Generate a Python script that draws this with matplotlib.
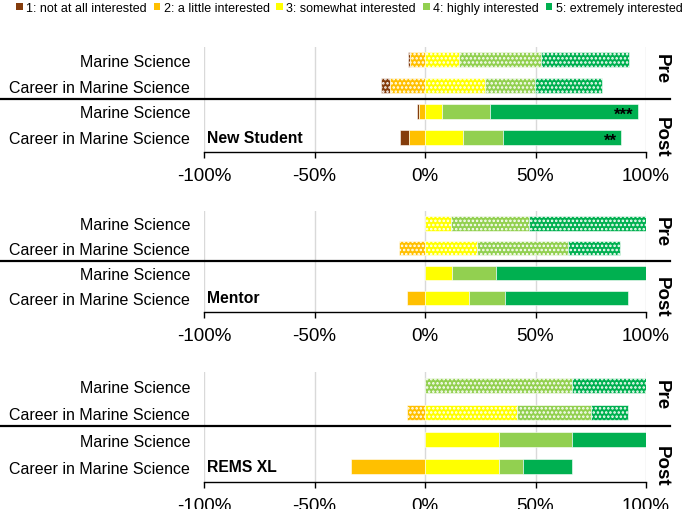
import matplotlib
matplotlib.use('agg')
import matplotlib.pyplot as plt
from matplotlib.patches import Patch
from matplotlib.lines import Line2D
from matplotlib.transforms import blended_transform_factory
import numpy as np

plt.rcParams['font.family'] = ['Liberation Sans', 'DejaVu Sans']
plt.rcParams['hatch.linewidth'] = 1.2

levels = ['1: not at all interested', '2: a little interested', '3: somewhat interested',
          '4: highly interested', '5: extremely interested']
colors = ['#843C0C', '#FFC000', '#FFFF00', '#92D050', '#00B050']

row_labels = ['Marine Science', 'Career in Marine Science', 'Marine Science', 'Career in Marine Science']
groups = ['New Student', 'Mentor', 'REMS XL']

# percent per level, rows: pre marine, pre career, post marine, post career
new_student = [[0.8, 6.8, 15.5, 37.0, 39.9],
               [4.2, 15.8, 27.1, 22.6, 30.3],
               [0.9, 2.9, 7.5, 21.9, 66.8],
               [3.9, 7.4, 17.0, 18.4, 53.3]]
mentor = [[0, 0, 11.8, 35.3, 52.9],
          [0, 11.8, 23.5, 41.2, 23.5],
          [0, 0, 12.0, 20.0, 68.0],
          [0, 8.0, 20.0, 16.0, 56.0]]
rems_xl = [[0, 0, 0, 66.7, 33.3],
           [0, 8.3, 41.7, 33.3, 16.7],
           [0, 0, 33.3, 33.3, 33.3],
           [0, 33.3, 33.3, 11.1, 22.2]]
data = [new_student, mentor, rems_xl]
stars = [['', '', '***', '**'], ['', '', '', ''], ['', '', '', '']]

fig = plt.figure(figsize=(6.85, 5.1), dpi=100)
W, H = 685.0, 510.0
# (top, bottom) in pixels
panels = [(48, 153), (212, 313), (373, 483)]
left, right = 204, 646

for g, (top, bot) in enumerate(panels):
    ax = fig.add_axes([left / W, 1 - bot / H, (right - left) / W, (bot - top) / H])
    vals = np.array(data[g], dtype=float)
    for r in range(4):
        pre = r < 2
        hatch = '....' if pre else None
        # negative side: levels 1 and 2
        x0 = -(vals[r, 0] + vals[r, 1])
        for k in range(2):
            if vals[r, k] > 0:
                ax.barh(r, vals[r, k], left=x0, height=0.58, color=colors[k],
                        edgecolor='white', linewidth=0.4, hatch=hatch, zorder=2)
            x0 += vals[r, k]
        x0 = 0
        for k in range(2, 5):
            if vals[r, k] > 0:
                ax.barh(r, vals[r, k], left=x0, height=0.58, color=colors[k],
                        edgecolor='white', linewidth=0.4, hatch=hatch, zorder=2)
            x0 += vals[r, k]
        if stars[g][r]:
            ax.text(x0 - 2, r + 0.12, stars[g][r], ha='right', va='center',
                    fontsize=12, fontweight='bold', zorder=3)
    ax.set_xlim(-100, 100)
    ax.set_ylim(3.57, -0.5)
    ax.set_yticks(range(4))
    ax.set_yticklabels(row_labels, fontsize=11.5)
    ax.tick_params(axis='y', length=0, pad=10)
    ax.set_xticks([-100, -50, 0, 50, 100])
    ax.set_xticklabels(['-100%', '-50%', '0%', '50%', '100%'], fontsize=13.5)
    ax.tick_params(axis='x', length=4, width=1, pad=7)
    for x in [-100, -50, 0, 50, 100]:
        ax.axvline(x, color='#d9d9d9', linewidth=1, zorder=0)
    for s in ['top', 'left', 'right']:
        ax.spines[s].set_visible(False)
    ax.spines['bottom'].set_linewidth(1)
    # pre / post divider
    tr = blended_transform_factory(fig.transFigure, ax.transData)
    fig.add_artist(Line2D([0, 670 / W], [1.5, 1.5], transform=tr, color='black', linewidth=1.6))
    ax.text(107, 0.3, 'Pre', rotation=270, ha='center', va='center', fontsize=13.5,
            fontweight='bold', clip_on=False)
    ax.text(107, 2.95, 'Post', rotation=270, ha='center', va='center', fontsize=13.5,
            fontweight='bold', clip_on=False)
    ax.text(-98.5, 3.0, groups[g], ha='left', va='center', fontsize=11.3,
            fontweight='bold', zorder=3)

handles = [Patch(facecolor=c, edgecolor='none') for c in colors]
fig.legend(handles, levels, loc='upper left', bbox_to_anchor=(16 / W, 1 - 3 / H), ncol=5,
           frameon=False, fontsize=9, handlelength=0.55, handleheight=0.55,
           handletextpad=0.25, columnspacing=0.55, borderpad=0, borderaxespad=0)

fig.savefig('out.png', dpi=100)
